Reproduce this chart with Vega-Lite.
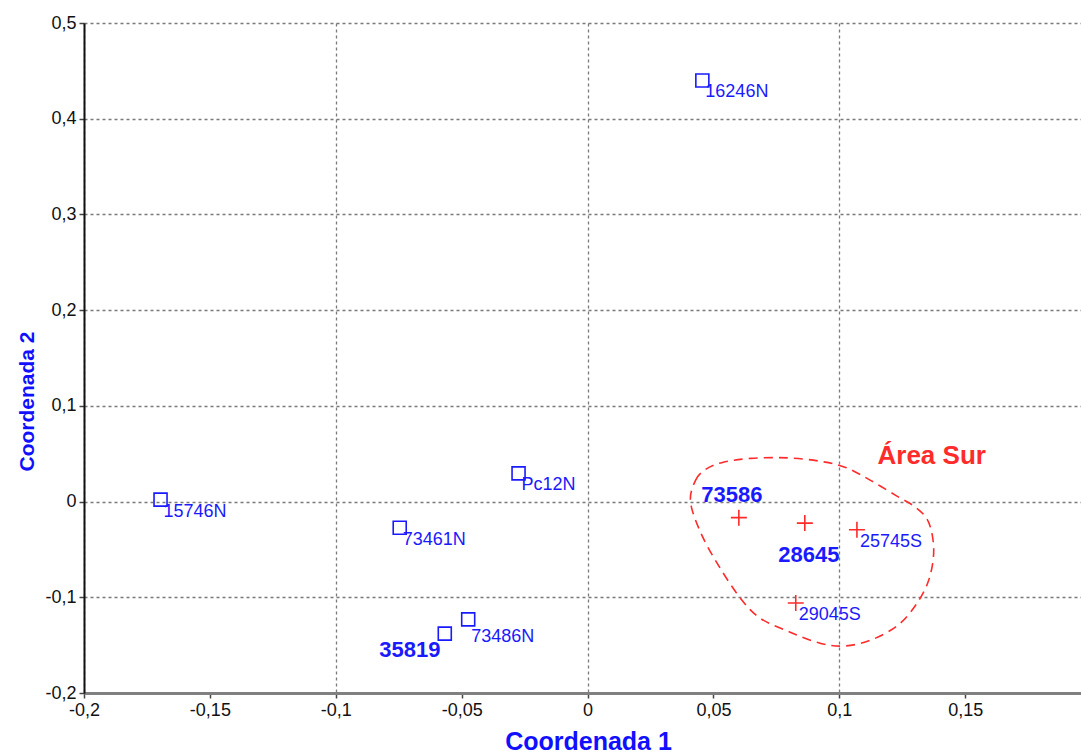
{
  "$schema": "https://vega.github.io/schema/vega-lite/v6.json",
  "width": 997,
  "height": 670,
  "autosize": {"type": "none"},
  "padding": {"left": 84, "top": 23, "right": 0, "bottom": 61},
  "background": "white",
  "config": {
    "view": {"stroke": null},
    "font": "Liberation Sans"
  },
  "datasets": {
    "muestras": [
      {"id": "16246N", "c1": 0.0456, "c2": 0.440, "zona": "Norte"},
      {"id": "15746N", "c1": -0.1696, "c2": 0.002, "zona": "Norte"},
      {"id": "Pc12N", "c1": -0.0274, "c2": 0.0295, "zona": "Norte"},
      {"id": "73461N", "c1": -0.0746, "c2": -0.0273, "zona": "Norte"},
      {"id": "73486N", "c1": -0.0474, "c2": -0.1231, "zona": "Norte"},
      {"id": "35819", "c1": -0.0567, "c2": -0.138, "zona": "Norte"},
      {"id": "73586", "c1": 0.0601, "c2": -0.0168, "zona": "Sur"},
      {"id": "28645", "c1": 0.0863, "c2": -0.0225, "zona": "Sur"},
      {"id": "25745S", "c1": 0.1070, "c2": -0.0294, "zona": "Sur"},
      {"id": "29045S", "c1": 0.0827, "c2": -0.106, "zona": "Sur"}
    ],
    "contorno": [
      {"orden": 1, "c1": 0.0409, "c2": 0.0000},
      {"orden": 2, "c1": 0.0429, "c2": 0.0222},
      {"orden": 3, "c1": 0.0469, "c2": 0.0336},
      {"orden": 4, "c1": 0.0536, "c2": 0.0409},
      {"orden": 5, "c1": 0.0648, "c2": 0.0451},
      {"orden": 6, "c1": 0.0795, "c2": 0.0457},
      {"orden": 7, "c1": 0.0926, "c2": 0.0420},
      {"orden": 8, "c1": 0.1025, "c2": 0.0357},
      {"orden": 9, "c1": 0.1124, "c2": 0.0222},
      {"orden": 10, "c1": 0.1224, "c2": 0.0065},
      {"orden": 11, "c1": 0.1303, "c2": -0.0060},
      {"orden": 12, "c1": 0.1355, "c2": -0.0217},
      {"orden": 13, "c1": 0.1375, "c2": -0.0510},
      {"orden": 14, "c1": 0.1355, "c2": -0.0823},
      {"orden": 15, "c1": 0.1303, "c2": -0.1084},
      {"orden": 16, "c1": 0.1232, "c2": -0.1293},
      {"orden": 17, "c1": 0.1132, "c2": -0.1440},
      {"orden": 18, "c1": 0.1025, "c2": -0.1508},
      {"orden": 19, "c1": 0.0926, "c2": -0.1482},
      {"orden": 20, "c1": 0.0807, "c2": -0.1367},
      {"orden": 21, "c1": 0.0687, "c2": -0.1221},
      {"orden": 22, "c1": 0.0608, "c2": -0.1012},
      {"orden": 23, "c1": 0.0520, "c2": -0.0667},
      {"orden": 24, "c1": 0.0449, "c2": -0.0322}
    ],
    "rotulo": [{"texto": "Área Sur", "c1": 0.1367, "c2": 0.039}]
  },
  "encoding": {
    "x": {
      "field": "c1",
      "type": "quantitative",
      "scale": {"domain": [-0.2, 0.196], "nice": false, "zero": false},
      "axis": {
        "title": "Coordenada 1",
        "values": [-0.2, -0.15, -0.1, -0.05, 0, 0.05, 0.1, 0.15],
        "labelExpr": "replace(replace(format(datum.value, '~g'), '.', ','), '\u2212', '-')",
        "labelFont": "Liberation Sans",
        "labelFontSize": 18,
        "labelColor": "#111111",
        "labelPadding": 3,
        "labelFlush": false,
        "tickSize": 5,
        "tickColor": "#444444",
        "tickWidth": 1.5,
        "domainColor": "#808080",
        "domainWidth": 3,
        "grid": true,
        "gridColor": "#7a7a7a",
        "gridDash": [3, 3],
        "gridWidth": 1.3,
        "gridOpacity": {"condition": {"test": "abs(datum.value * 10 - round(datum.value * 10)) < 0.000001", "value": 1}, "value": 0},
        "titleFont": "Liberation Sans",
        "titleFontSize": 25,
        "titleFontWeight": "bold",
        "titleColor": "#1010ff",
        "titleX": 504,
        "titleY": 56,
        "titleAlign": "center",
        "titleBaseline": "alphabetic"
      }
    },
    "y": {
      "field": "c2",
      "type": "quantitative",
      "scale": {"domain": [-0.2, 0.5], "nice": false, "zero": false},
      "axis": {
        "title": "Coordenada 2",
        "values": [-0.2, -0.1, 0, 0.1, 0.2, 0.3, 0.4, 0.5],
        "labelExpr": "replace(replace(format(datum.value, '~g'), '.', ','), '\u2212', '-')",
        "labelFont": "Liberation Sans",
        "labelFontSize": 18,
        "labelColor": "#111111",
        "labelPadding": 3,
        "labelFlush": false,
        "tickSize": 5,
        "tickColor": "#444444",
        "tickWidth": 1.5,
        "domainColor": "#111111",
        "domainWidth": 2,
        "grid": true,
        "gridColor": "#7a7a7a",
        "gridDash": [3, 3],
        "gridWidth": 1.3,
        "titleFont": "Liberation Sans",
        "titleFontSize": 21,
        "titleFontWeight": "bold",
        "titleColor": "#1010ff",
        "titleAngle": -90,
        "titleX": -57,
        "titleY": 378,
        "titleAlign": "center",
        "titleBaseline": "middle"
      }
    }
  },
  "layer": [
    {
      "data": {"name": "contorno"},
      "mark": {"type": "line", "interpolate": "cardinal-closed", "color": "#ff2b2b", "strokeWidth": 1.6, "strokeDash": [9, 6]},
      "encoding": {"order": {"field": "orden", "type": "quantitative"}}
    },
    {
      "data": {"name": "muestras"},
      "transform": [{"filter": "datum.zona == 'Norte'"}],
      "mark": {"type": "point", "shape": "square", "filled": false, "size": 169, "color": "#1a1aff", "strokeWidth": 1.6, "opacity": 1}
    },
    {
      "data": {"name": "muestras"},
      "transform": [{"filter": "datum.zona == 'Sur'"}],
      "mark": {"type": "point", "shape": "M-1,0L1,0M0,-1L0,1", "filled": false, "size": 256, "color": "#ff2b2b", "strokeWidth": 1.6, "opacity": 1}
    },
    {
      "data": {"name": "muestras"},
      "transform": [{"filter": "indexof(['73586', '28645', '35819', '73486N'], datum.id) < 0"}],
      "mark": {"type": "text", "align": "left", "baseline": "middle", "dx": 3, "dy": 12, "font": "Liberation Sans", "fontSize": 18, "color": "#1a1aff"},
      "encoding": {"text": {"field": "id"}}
    },
    {
      "data": {"name": "muestras"},
      "transform": [{"filter": "datum.id == '73486N'"}],
      "mark": {"type": "text", "align": "left", "baseline": "middle", "dx": 3, "dy": 18, "font": "Liberation Sans", "fontSize": 18, "color": "#1a1aff"},
      "encoding": {"text": {"field": "id"}}
    },
    {
      "data": {"name": "muestras"},
      "transform": [{"filter": "datum.id == '73586'"}],
      "mark": {"type": "text", "align": "center", "baseline": "middle", "dx": -7, "dy": -23, "font": "Liberation Sans", "fontSize": 22, "fontWeight": "bold", "color": "#1a1aff"},
      "encoding": {"text": {"field": "id"}}
    },
    {
      "data": {"name": "muestras"},
      "transform": [{"filter": "datum.id == '28645'"}],
      "mark": {"type": "text", "align": "center", "baseline": "middle", "dx": 4, "dy": 32, "font": "Liberation Sans", "fontSize": 22, "fontWeight": "bold", "color": "#1a1aff"},
      "encoding": {"text": {"field": "id"}}
    },
    {
      "data": {"name": "muestras"},
      "transform": [{"filter": "datum.id == '35819'"}],
      "mark": {"type": "text", "align": "center", "baseline": "middle", "dx": -35, "dy": 16, "font": "Liberation Sans", "fontSize": 22, "fontWeight": "bold", "color": "#1a1aff"},
      "encoding": {"text": {"field": "id"}}
    },
    {
      "data": {"name": "rotulo"},
      "mark": {"type": "text", "align": "center", "baseline": "alphabetic", "font": "Liberation Sans", "fontSize": 26, "fontWeight": "bold", "color": "#ff2b2b"},
      "encoding": {"text": {"field": "texto"}}
    }
  ]
}
